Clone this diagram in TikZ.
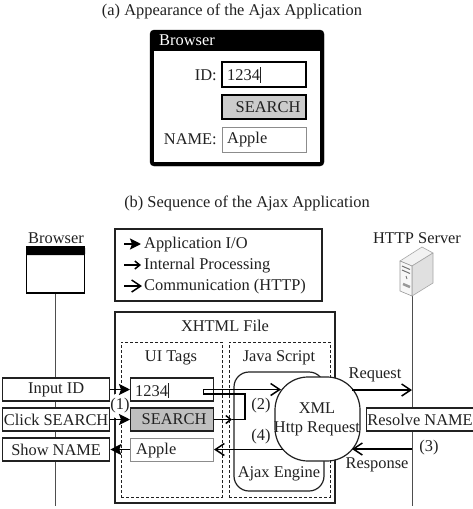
\documentclass[tikz,border=0pt]{standalone}
\usepackage{fontspec}
\setmainfont{Liberation Serif}
\usetikzlibrary{arrows.meta,calc}
\definecolor{ink}{gray}{0.13}
\newcommand{\labfont}{\fontsize{16.4}{19}\selectfont}
\tikzset{
  lab/.style={inner sep=0pt,font=\labfont,text=ink},
  wbox/.style={draw=ink,fill=white,line width=1.3pt,minimum width=#1,minimum height=23pt,inner sep=0pt,font=\labfont,text=ink},
  wbox/.default=107pt,
  life/.style={draw=ink!80,line width=1pt},
  appio/.style={draw=black,line width=1.8pt,-{Stealth[length=11pt,width=11pt,inset=2pt]}},
  internal/.style={draw=black,line width=1.5pt,-{Straight Barb[length=5pt,width=8pt]}},
  comm/.style={draw=black,line width=1.5pt,-{Straight Barb[length=9pt,width=12pt]}},
  plain/.style={draw=black,line width=1.5pt,line join=miter},
  dashbox/.style={draw=ink,line width=1pt,dash pattern=on 3pt off 2pt},
}
\begin{document}
\begin{tikzpicture}[x=1pt,y=-1pt]
\useasboundingbox (0,0) rectangle (473,509);
\fill[white] (0,0) rectangle (473,509);
% (a)
\node[lab] (ta) at (232,11) {(a) Appearance of the Ajax Application};
\filldraw[draw=black,fill=black,rounded corners=4pt] (150,30) rectangle (324,166);
\fill[white] (154,50.5) rectangle (320,162);
\node[lab,text=white,anchor=west] (tb) at (159,40) {Browser};
\node[lab,anchor=east] (lid) at (217,75) {ID:};
\node[wbox=84pt,minimum height=25pt,draw=black,line width=1.1pt] (bid) at (264,74.5) {};
\node[lab,anchor=west] (vid) at (227,75) {1234\rule[-2pt]{0.8pt}{15.5pt}};
\node[wbox=84pt,minimum height=24pt,draw=black,line width=1.1pt,fill=black!20] (bse) at (264,107) {};
\node[lab] (vse) at (268,107) {SEARCH};
\node[lab,anchor=east] (lna) at (217,139.5) {NAME:};
\node[wbox=84pt,minimum height=25pt,draw=black!45,line width=1pt] (bna) at (264,139.5) {};
\node[lab,anchor=west] (vna) at (227,140) {Apple};
% (b)
\node[lab] (tc) at (247,203) {(b) Sequence of the Ajax Application};
\node[lab] (lb) at (56,238) {Browser};
\node[draw=black,fill=white,line width=1.8pt,minimum width=58pt,minimum height=46pt,inner sep=0pt] (win) at (55.5,270) {};
\fill[black,rounded corners=1pt] (26,247) rectangle (85,255);
\coordinate (lbend) at (55.5,506);
\draw[life] (win.south) -- (lbend);
\node[lab] (ls) at (417,238) {HTTP Server};
% server icon
\coordinate (srv) at (412.5,296);
\coordinate (rend) at (412.5,506);
\draw[life] (srv) -- (rend);
\filldraw[draw=black!35,fill=black!5,line width=0.6pt,line join=round] (400,261) -- (422,247) -- (433,253) -- (412,266) -- cycle;
\filldraw[draw=black!35,fill=black!12,line width=0.6pt,line join=round] (412,266) -- (433,253) -- (433,283) -- (412,296) -- cycle;
\filldraw[draw=black!40,fill=black!3,line width=0.6pt,line join=round] (400,261) -- (412,266) -- (412,296) -- (400,291) -- cycle;
\draw[black!55,line width=1pt] (402,266) -- (410,269.5) (402,270) -- (410,273.5);
\draw[black!40,line width=2.5pt] (403,284) -- (410,287);
\draw[black!55,line width=0.8pt] (406,276) -- (407,279);
% legend
\node[draw=ink,line width=1.2pt,minimum width=207pt,minimum height=72pt,inner sep=0pt] (leg) at (218.5,265) {};
\coordinate (la1) at (124,244); \coordinate (la2) at (141,244);
\coordinate (lb1) at (124,265); \coordinate (lb2) at (141,265);
\coordinate (lc1) at (124,286); \coordinate (lc2) at (142,286);
\draw[appio] (la1) -- (la2);
\draw[internal] (lb1) -- (lb2);
\draw[comm] (lc1) -- (lc2);
\node[lab,anchor=west] (t1) at (144,245) {Application I/O};
\node[lab,anchor=west] (t2) at (144,266) {Internal Processing};
\node[lab,anchor=west] (t3) at (144,287) {Communication (HTTP)};
% XHTML
\node[draw=ink,line width=1.3pt,minimum width=220pt,minimum height=191pt,inner sep=0pt] (xh) at (225,407.5) {};
\node[lab] (txh) at (225,326) {XHTML File};
\node[dashbox,minimum width=101pt,minimum height=155pt,inner sep=0pt] (ui) at (171.5,419.5) {};
\node[dashbox,minimum width=101pt,minimum height=155pt,inner sep=0pt] (js) at (279.5,419.5) {};
\node[lab] (tui) at (171,358) {UI Tags};
\node[lab] (tjs) at (279,358) {Java Script};
% Ajax engine
\node[draw=ink,fill=white,line width=1.2pt,rounded corners=15pt,minimum width=90pt,minimum height=119pt,inner sep=0pt] (eng) at (279,431.5) {};
\node[lab] (ten) at (279,474) {Ajax Engine};
% numbers
\node[lab,fill=white,circle,inner sep=0.5pt] (n1) at (120,406) {(1)};
\node[lab] (n2) at (261,406) {(2)};
\node[lab] (n3) at (429,448) {(3)};
\node[lab] (n4) at (261,437) {(4)};
% left boxes
\node[wbox,anchor=west] (inp) at (2,389.5) {Input ID};
\node[wbox,anchor=west] (clk) at (2,419.5) {Click SEARCH};
\node[wbox,anchor=west] (shw) at (2,449.5) {Show NAME};
% UI boxes
\node[wbox=83pt,anchor=west] (i1) at (130,389.5) {};
\node[lab,anchor=west] (i1t) at (135,390.5) {1234\rule[-2pt]{0.7pt}{15pt}};
\node[wbox=83pt,anchor=west,fill=black!25] (i2) at (130,419.5) {};
\node[lab] (i2t) at (174,419.5) {SEARCH};
\node[wbox=83pt,anchor=west,draw=black!45,line width=1pt] (i3) at (130,449.5) {};
\node[lab,anchor=west] (i3t) at (136,451) {Apple};
% XML Http Request
\node[draw=ink,fill=white,line width=1.2pt,rounded corners=33pt,minimum width=85pt,minimum height=84pt,inner sep=0pt] (xml) at (317.5,419) {};
\node[lab] (tx1) at (317,408) {XML};
\node[lab] (tx2) at (317,429) {Http Request};
% resolve
\node[draw=ink,fill=white,line width=1.2pt,minimum width=107pt,minimum height=23pt,inner sep=0pt,font=\labfont,text=ink,anchor=west] (res) at (366,419.5) {Resolve NAME};
% app arrows
\draw[appio] (inp.east) -- (i1.west);
\draw[appio] (clk.east) -- (i2.west);
\draw[appio] (i3.west) -- (shw.east);
% internal
\coordinate (k1) at (245,394); \coordinate (k2) at (245,419.5);
\coordinate (d1) at (203.5,394); \coordinate (d2) at (203.5,389.5);
\coordinate (se) at (232,419.5);
\coordinate (xin) at (281,389.5);
\coordinate (xout) at (283,449.5);
\coordinate (ru) at (232,449.5);
\draw[plain] (k2) -- (se);
\draw[internal] (i2.east) -- (se);
\draw[plain] (k2) -- (k1) -- (d1) -- (d2) -- (240,389.5);
\draw[comm] (240,389.5) -- (xin);
\draw[comm] (xout) -- (i3.east);
% HTTP
\coordinate (rq1) at (352,390); \coordinate (rq2) at (412,390);
\coordinate (rp1) at (412,449); \coordinate (rp2) at (352,449);
\draw[comm] (rq1) -- (rq2);
\draw[comm] (rp1) -- (rp2);
\node[lab] (trq) at (375,375) {Request};
\node[lab] (trp) at (377,465) {Response};
\end{tikzpicture}
\end{document}
